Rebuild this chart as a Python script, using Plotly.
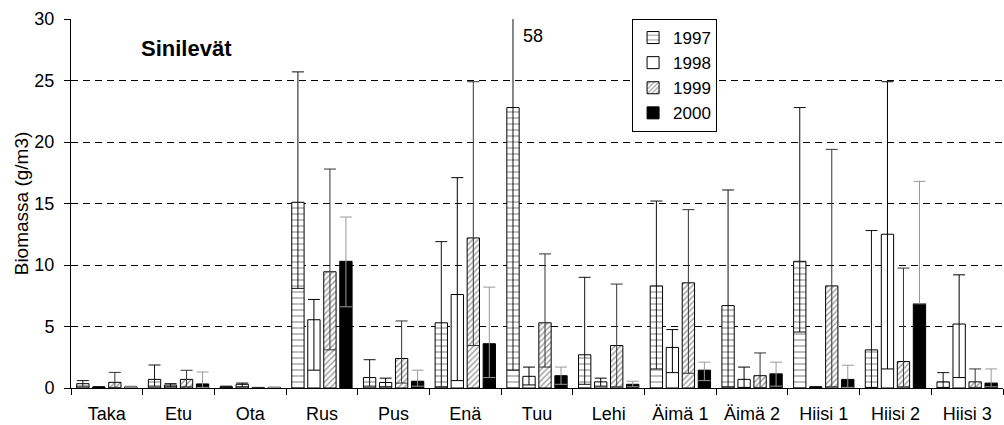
import plotly.graph_objects as go

categories = ["Taka", "Etu", "Ota", "Rus", "Pus", "Enä", "Tuu", "Lehi",
              "Äimä 1", "Äimä 2", "Hiisi 1", "Hiisi 2", "Hiisi 3"]
years = ["1997", "1998", "1999", "2000"]

mean_1997 = [0.35, 0.7, 0.1, 15.1, 0.85, 5.3, 22.8, 2.7, 8.3, 6.7, 10.3, 3.1, 0.5]
max_1997 = [0.6, 1.87, 0.15, 25.7, 2.3, 11.9, 58, 9.0, 15.2, 16.1, 22.8, 12.8, 1.25]
min_1997 = [0.15, 0.15, 0.05, 8.1, 0.15, 0.1, 1.45, 0.3, 1.55, 0.1, 4.55, 0.05, 0.05]

mean_1998 = [0.08, 0.24, 0.3, 5.55, 0.45, 7.6, 0.95, 0.5, 3.3, 0.7, 0.08, 12.5, 5.2]
max_1998 = [0.1, 0.35, 0.4, 7.2, 0.8, 17.1, 1.7, 0.8, 4.75, 1.7, 0.1, 24.9, 9.2]
min_1998 = [0.05, 0.1, 0.1, 1.45, 0.1, 0.6, 0.25, 0.15, 1.25, 0.05, 0.05, 1.55, 0.85]

mean_1999 = [0.46, 0.7, 0.03, 9.45, 2.4, 12.2, 5.3, 3.45, 8.55, 1.0, 8.3, 2.15, 0.5]
max_1999 = [1.27, 1.44, 0.05, 17.8, 5.45, 24.9, 10.9, 8.45, 14.5, 2.85, 19.4, 9.75, 1.55]
min_1999 = [0.05, 0.1, 0.01, 3.1, 0.4, 3.45, 1.7, 0.1, 1.2, 0.05, 0.1, 0.1, 0.05]

mean_2000 = [0.1, 0.33, 0.05, 10.3, 0.55, 3.6, 1.0, 0.3, 1.45, 1.15, 0.7, 6.85, 0.4]
max_2000 = [0.15, 1.3, 0.08, 13.9, 1.45, 8.2, 1.7, 0.55, 2.1, 2.1, 1.85, 16.8, 1.55]
min_2000 = [0.05, 0.05, 0.03, 6.6, 0.15, 0.85, 0.3, 0.1, 0.6, 0.15, 0.05, 6.85, 0.1]

means = [mean_1997, mean_1998, mean_1999, mean_2000]
maxs = [max_1997, max_1998, max_1999, max_2000]
mins = [min_1997, min_1998, min_1999, min_2000]

fills = [
    dict(marker_color="white", pattern=dict(shape="-", size=6, solidity=0.17, fgcolor="black", bgcolor="white")),
    dict(marker_color="white", pattern=None),
    dict(marker_color="white", pattern=dict(shape="/", size=4, solidity=0.35, fgcolor="#333333", bgcolor="white")),
    dict(marker_color="black", pattern=None),
]
err_colors = ["#111111", "#000000", "#333333", "#999999"]

FONT = "Liberation Sans, Arial, sans-serif"

fig = go.Figure()
for k, yr in enumerate(years):
    m = means[k]
    plus = [mx - v for mx, v in zip(maxs[k], m)]
    minus = [v - mn for mn, v in zip(mins[k], m)]
    marker = dict(color=fills[k]["marker_color"], line=dict(color="black", width=1))
    if fills[k]["pattern"] is not None:
        marker["pattern"] = fills[k]["pattern"]
    fig.add_trace(go.Bar(
        name=yr, x=categories, y=m, marker=marker,
        error_y=dict(type="data", symmetric=False, array=plus, arrayminus=minus,
                     color=err_colors[k], thickness=1, width=6),
    ))

fig.add_annotation(text="<b>Sinilevät</b>", xref="paper", yref="paper",
                   x=0.1234, y=0.921, xanchor="center", yanchor="middle",
                   showarrow=False, font=dict(family=FONT, size=22, color="black"))
fig.add_annotation(text="58", xref="paper", yref="paper",
                   x=0.4957, y=0.954, xanchor="center", yanchor="middle",
                   showarrow=False, font=dict(family=FONT, size=18, color="black"))

fig.update_layout(
    width=1004, height=425,
    margin=dict(l=71, r=1, t=19, b=37),
    paper_bgcolor="white", plot_bgcolor="white",
    barmode="group", bargap=0.107, bargroupgap=0.23,
    font=dict(family=FONT, color="black"),
    legend=dict(x=0.602, y=1, xanchor="left", yanchor="top",
                bordercolor="black", borderwidth=1, bgcolor="white",
                font=dict(family=FONT, size=17, color="black"),
                itemwidth=30, tracegroupgap=0),
    xaxis=dict(type="category", tickson="boundaries", ticks="outside", ticklen=6,
               tickcolor="black", showline=True, linecolor="black", linewidth=1,
               showgrid=False, range=[-0.5, 12.5],
               tickfont=dict(family=FONT, size=18, color="black"),
               ticklabelstandoff=9),
    yaxis=dict(range=[0, 30], dtick=5, ticks="outside", ticklen=6, tickcolor="black",
               showline=True, linecolor="black", linewidth=1,
               showgrid=True, gridcolor="black", gridwidth=1, griddash="7px,5px",
               zeroline=False,
               tickfont=dict(family=FONT, size=18, color="black"),
               ticklabelstandoff=6,
               title=dict(text="Biomassa (g/m3)", standoff=0,
                          font=dict(family=FONT, size=19, color="black"))),
)

fig.write_html("out.html")
